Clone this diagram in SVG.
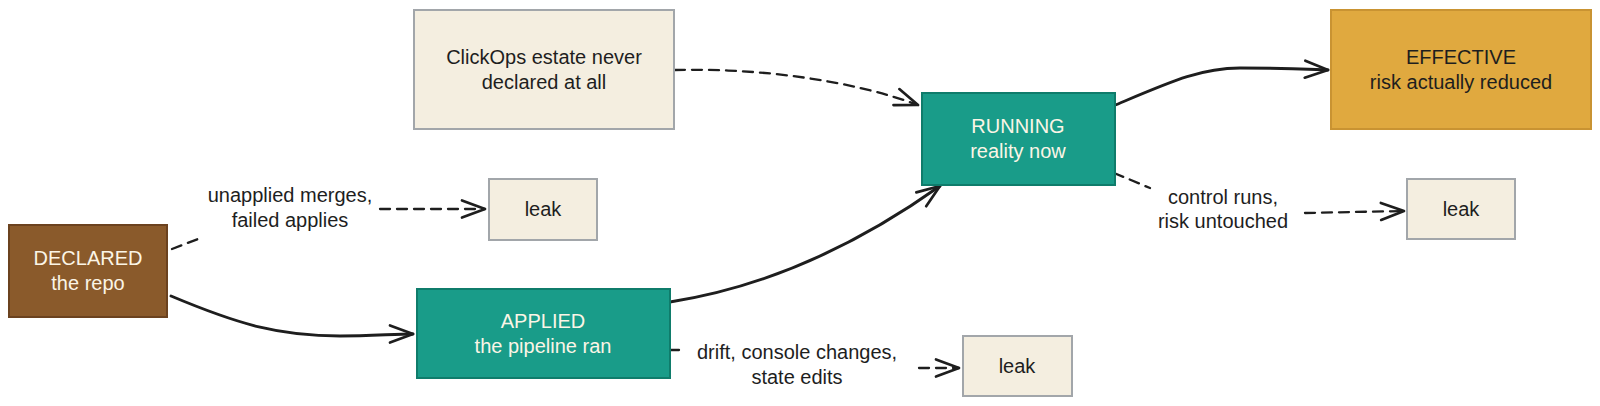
<svg xmlns="http://www.w3.org/2000/svg" width="1600" height="406" viewBox="0 0 1600 406">
<defs>
<style>
.t{font-family:"Liberation Sans","Noto Sans",sans-serif;font-size:20px;text-anchor:middle}
.dk{fill:#1e1e1e}
.lt{fill:#fbf5e6}
.teal{fill:#199c89;stroke:#0f7c6b;stroke-width:2}
.brown{fill:#8a5a2b;stroke:#6b421f;stroke-width:2}
.cream{fill:#f4eee0;stroke:#a2a6aa;stroke-width:2}
.gold{fill:#e0a93f;stroke:#c99332;stroke-width:2}
.solid{fill:none;stroke:#1e1e1e;stroke-width:2.9;stroke-linecap:round}
.dash{fill:none;stroke:#1e1e1e;stroke-width:2.3;stroke-dasharray:10 7;stroke-linecap:round}
</style>
<marker id="ah" markerUnits="userSpaceOnUse" viewBox="-28 -14 32 28" markerWidth="32" markerHeight="28" refX="0" refY="0" orient="auto">
<path d="M-23,-8.5 L0,0 L-23,8.5" fill="none" stroke="#1e1e1e" stroke-width="2.7" stroke-linecap="round" stroke-linejoin="round"/>
</marker>
</defs>
<rect width="1600" height="406" fill="#ffffff"/>

<g id="connectors">
<path class="solid" d="M171,296 C240,325 280,336 340,336 C370,336 395,334 413,334" marker-end="url(#ah)"/>
<path class="solid" d="M670,302 C760,288 850,250 940,186" marker-end="url(#ah)"/>
<path class="solid" d="M1113,106 C1170,82 1200,68 1240,68 C1280,68 1300,69 1328,70" marker-end="url(#ah)"/>
<path class="dash" d="M675,70 C760,68 850,80 918,105" marker-end="url(#ah)"/>
<path class="dash" d="M172,249 L198,239"/>
<path class="dash" d="M380,209 L485,209" marker-end="url(#ah)"/>
<path class="dash" d="M671,350 L679,350"/>
<path class="dash" d="M919,368 L959,368" marker-end="url(#ah)"/>
<path class="dash" d="M1114,173 L1150,188"/>
<path class="dash" d="M1305,213 L1404,211" marker-end="url(#ah)"/>
<text class="t dk" x="290" y="202">unapplied merges,</text>
<text class="t dk" x="290" y="227">failed applies</text>
<text class="t dk" x="797" y="359">drift, console changes,</text>
<text class="t dk" x="797" y="384">state edits</text>
<text class="t dk" x="1223" y="204">control runs,</text>
<text class="t dk" x="1223" y="228">risk untouched</text>
</g>

<g id="declared">
<rect class="brown" x="9" y="225" width="158" height="92"/>
<text class="t lt" x="88" y="265">DECLARED</text>
<text class="t lt" x="88" y="290">the repo</text>
</g>

<g id="clickops">
<rect class="cream" x="414" y="10" width="260" height="119"/>
<text class="t dk" x="544" y="64">ClickOps estate never</text>
<text class="t dk" x="544" y="89">declared at all</text>
</g>

<g id="applied">
<rect class="teal" x="417" y="289" width="253" height="89"/>
<text class="t lt" x="543" y="328">APPLIED</text>
<text class="t lt" x="543" y="353">the pipeline ran</text>
</g>

<g id="running">
<rect class="teal" x="922" y="93" width="193" height="92"/>
<text class="t lt" x="1018" y="133">RUNNING</text>
<text class="t lt" x="1018" y="158">reality now</text>
</g>

<g id="effective">
<rect class="gold" x="1331" y="10" width="260" height="119"/>
<text class="t dk" x="1461" y="64">EFFECTIVE</text>
<text class="t dk" x="1461" y="89">risk actually reduced</text>
</g>

<g id="leak1">
<rect class="cream" x="489" y="179" width="108" height="61"/>
<text class="t dk" x="543" y="216">leak</text>
</g>

<g id="leak2">
<rect class="cream" x="963" y="336" width="109" height="60"/>
<text class="t dk" x="1017" y="373">leak</text>
</g>

<g id="leak3">
<rect class="cream" x="1407" y="179" width="108" height="60"/>
<text class="t dk" x="1461" y="216">leak</text>
</g>
</svg>
